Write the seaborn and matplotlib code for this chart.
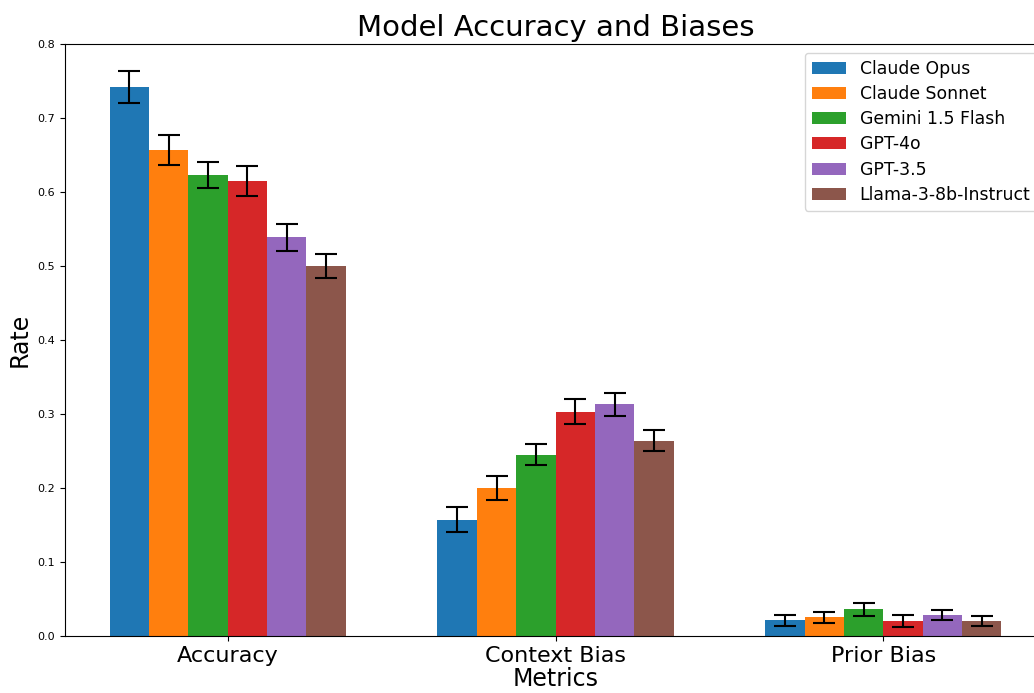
import numpy as np
import pandas as pd
import matplotlib
matplotlib.use("Agg")
import matplotlib.pyplot as plt
import seaborn as sns

metrics = ["Accuracy", "Context Bias", "Prior Bias"]
models = ["Claude Opus", "Claude Sonnet", "Gemini 1.5 Flash", "GPT-4o", "GPT-3.5", "Llama-3-8b-Instruct"]

# rate per model, in metric order
claude_opus = [0.742, 0.157, 0.021]
claude_sonnet = [0.657, 0.200, 0.025]
gemini_flash = [0.623, 0.245, 0.036]
gpt_4o = [0.615, 0.303, 0.020]
gpt_35 = [0.539, 0.313, 0.028]
llama_3 = [0.500, 0.264, 0.020]

# error bar half widths
err_opus = [0.022, 0.017, 0.0075]
err_sonnet = [0.020, 0.016, 0.008]
err_gemini = [0.018, 0.014, 0.009]
err_4o = [0.020, 0.017, 0.008]
err_35 = [0.018, 0.015, 0.007]
err_llama = [0.016, 0.014, 0.007]

values = [claude_opus, claude_sonnet, gemini_flash, gpt_4o, gpt_35, llama_3]
errors = [err_opus, err_sonnet, err_gemini, err_4o, err_35, err_llama]

rows = []
for m, vals, errs in zip(models, values, errors):
    for met, v, e in zip(metrics, vals, errs):
        rows.append({"metric": met, "model": m, "rate": v, "err": e})
df = pd.DataFrame(rows)

fig = plt.figure(figsize=(10.34, 6.93), dpi=100)
ax = fig.add_axes([0.0629, 0.0823, 0.9487, 0.854])

palette = sns.color_palette("tab10", len(models))
sns.barplot(data=df, x="metric", y="rate", hue="model", order=metrics, hue_order=models,
            palette=palette, width=0.72, saturation=1, errorbar=None, ax=ax)

# add error bars on top of each bar
for cont, m in zip(ax.containers, models):
    sub = df[df["model"] == m].set_index("metric").loc[metrics]
    xs = [p.get_x() + p.get_width() / 2 for p in cont.patches]
    ax.errorbar(xs, sub["rate"], yerr=sub["err"], fmt="none", ecolor="black",
                elinewidth=1.5, capsize=8, capthick=1.5)

ax.set_xlim(-0.496, 2.496)
ax.set_ylim(0, 0.8)
ax.set_title("Model Accuracy and Biases", fontsize=21)
ax.set_xlabel("Metrics", fontsize=17, labelpad=1)
ax.set_ylabel("Rate", fontsize=17)
ax.tick_params(axis="x", labelsize=16)
ax.tick_params(axis="y", labelsize=8)
ax.legend(loc="upper right", fontsize=12.4, labelspacing=0.42)

fig.savefig("out.png", dpi=100)
